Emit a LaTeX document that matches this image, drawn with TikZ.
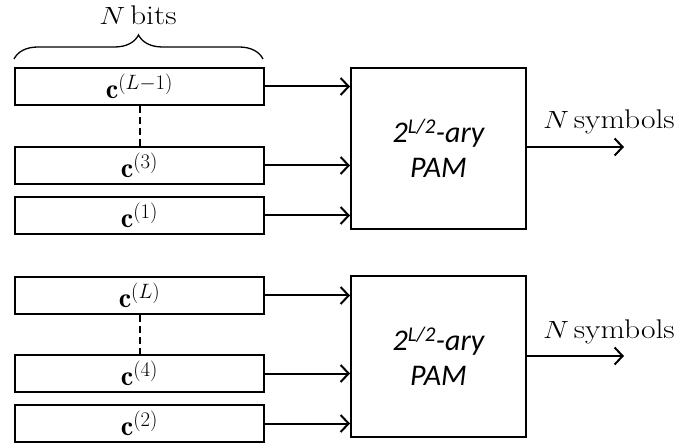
\documentclass[tikz,border=0pt]{standalone}
\usepackage{fontspec}
\usepackage{graphicx}
\newfontfamily\pamfont{Carlito}
\usetikzlibrary{arrows.meta,decorations.pathreplacing}
\newcommand\widetext[1]{\scalebox{1.17}[1]{#1}}
\begin{document}
\begin{tikzpicture}[x=1pt,y=-1pt,
  every node/.style={font=\fontsize{28}{34}\selectfont},
  bitbox/.style={draw,line width=2pt,minimum width=249pt,minimum height=37pt,inner sep=0pt,anchor=north west},
  pambox/.style={draw,line width=2pt,minimum width=175pt,minimum height=161pt,inner sep=0pt,anchor=north west,align=center,font=\fontsize{30}{35}\selectfont\pamfont\itshape},
  conn/.style={line width=2pt,-{Straight Barb[length=8pt,width=17pt,line width=2pt]}},
  dots/.style={line width=2pt,dash pattern=on 7pt off 4pt},
  lbl/.style={inner sep=0pt,anchor=base,font=\fontsize{27}{32}\selectfont}]
\useasboundingbox (0,0) rectangle (680,446);
% top group
\node[bitbox] (a1) at (14,67) {$\mathbf{c}^{(L-1)}$};
\node[bitbox] (a3) at (14,146) {$\mathbf{c}^{(3)}$};
\node[bitbox] (a5) at (14,196) {$\mathbf{c}^{(1)}$};
\node[pambox] (p1) at (350,67) {2\textsuperscript{L/2}-ary\\PAM};
\draw[dots] (a1.south) -- (a3.north);
\draw[conn] (a1.east) -- (a1.east -| p1.west);
\draw[conn] (a3.east) -- (a3.east -| p1.west);
\draw[conn] (a5.east) -- (a5.east -| p1.west);
\coordinate (o1) at (624,147);
\draw[conn] (p1.east |- o1) -- (o1);
\node[lbl] (s1) at (609,129) {\widetext{$N\,$symbols}};
\coordinate (b1l) at (14,59);
\coordinate (b1r) at (263,59);
\draw[line width=1.3pt,decorate,decoration={brace,amplitude=24pt}] (b1l) -- (b1r);
\node[lbl] (nb) at (138,25) {\widetext{$N\,$bits}};
% bottom group
\node[bitbox] (b1) at (14,276) {$\mathbf{c}^{(L)}$};
\node[bitbox] (b3) at (14,354) {$\mathbf{c}^{(4)}$};
\node[bitbox] (b5) at (14,404) {$\mathbf{c}^{(2)}$};
\node[pambox] (p2) at (350,275) {2\textsuperscript{L/2}-ary\\PAM};
\draw[dots] (b1.south) -- (b3.north);
\draw[conn] (b1.east) -- (b1.east -| p2.west);
\draw[conn] (b3.east) -- (b3.east -| p2.west);
\draw[conn] (b5.east) -- (b5.east -| p2.west);
\coordinate (o2) at (624,356);
\draw[conn] (p2.east |- o2) -- (o2);
\node[lbl] (s2) at (609,338) {\widetext{$N\,$symbols}};
\end{tikzpicture}
\end{document}
